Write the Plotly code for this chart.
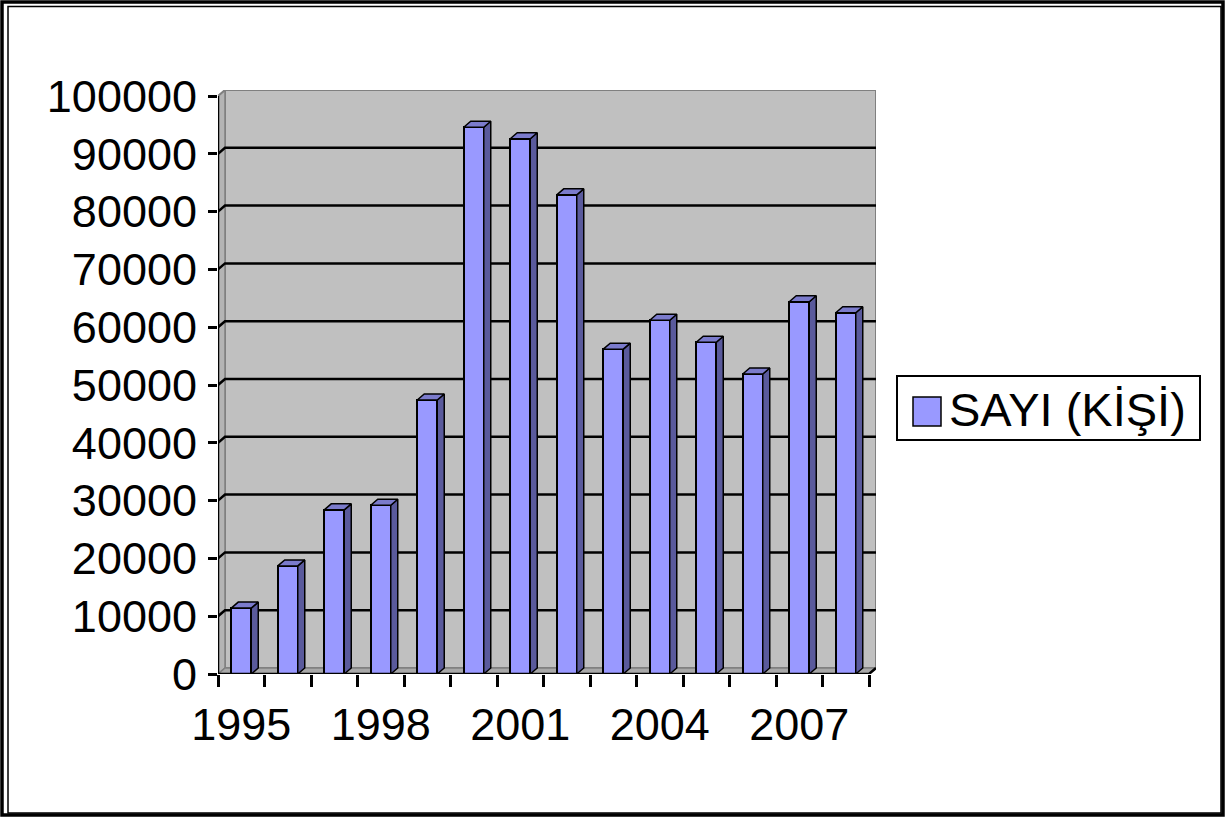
import plotly.graph_objects as go

years = ["1995", "1996", "1997", "1998", "1999", "2000", "2001", "2002",
         "2003", "2004", "2005", "2006", "2007", "2008"]
values = [11400, 18700, 28400, 29200, 47400, 94600, 92600, 82900,
          56200, 61200, 57400, 51900, 64400, 62500]
series_name = "SAYI (KİŞİ)"
y_ticks = [0, 10000, 20000, 30000, 40000, 50000, 60000, 70000, 80000, 90000, 100000]
x_label_years = ["1995", "1998", "2001", "2004", "2007"]

W, H = 1232, 819
L, R, T, B = 218, 876, 90, 674
n = len(years)
px_per_cat = 46.5
dx = (R - L) / px_per_cat - n          # depth in category units
ymax = 100000
px_per_val = 5.78 / 1000
dyv = (B - T) / px_per_val - ymax      # depth in value units
bw = 0.43
hw = bw / 2

FONT = "Liberation Sans, Arial, sans-serif"

def pxx(p):
    return (p - L) / (R - L)

def pxy(p):
    return (B - p) / (B - T)

fig = go.Figure()
idx = list(range(n))

# front faces
fig.add_trace(go.Bar(x=idx, y=values, width=bw, marker=dict(color="#9999FF", line=dict(color="black", width=2)),
                     showlegend=False, hoverinfo="skip"))

# side and top faces
sx, sy, tx, ty = [], [], [], []
for i, v in zip(idx, values):
    xr = i + hw
    xl = i - hw
    sx += [xr, xr + dx, xr + dx, xr, xr, None]
    sy += [0, dyv, v + dyv, v, 0, None]
    tx += [xl, xl + dx, xr + dx, xr, xl, None]
    ty += [v, v + dyv, v + dyv, v, v, None]
fig.add_trace(go.Scatter(x=sx, y=sy, mode="lines", fill="toself", fillcolor="#5A5A9C",
                         line=dict(color="black", width=1.5), showlegend=False, hoverinfo="skip"))
fig.add_trace(go.Scatter(x=tx, y=ty, mode="lines", fill="toself", fillcolor="#7B7BCC",
                         line=dict(color="black", width=1.5), showlegend=False, hoverinfo="skip"))

x0, x1 = -0.5, n - 0.5
shapes = []
# back wall
shapes.append(dict(type="rect", xref="x", yref="y", x0=x0 + dx, x1=x1 + dx, y0=dyv, y1=ymax + dyv,
                   fillcolor="#C0C0C0", line=dict(color="#808080", width=2), layer="below"))
# left wall
shapes.append(dict(type="path", xref="x", yref="y",
                   path=f"M {x0},0 L {x0+dx},{dyv} L {x0+dx},{ymax+dyv} L {x0},{ymax} Z",
                   fillcolor="#B4B4B4", line=dict(color="#808080", width=1.5), layer="below"))
# floor
shapes.append(dict(type="path", xref="x", yref="y",
                   path=f"M {x0},0 L {x1},0 L {x1+dx},{dyv} L {x0+dx},{dyv} Z",
                   fillcolor="#A8A8A8", line=dict(color="#808080", width=1.5), layer="below"))
# gridlines on back wall
for v in y_ticks[1:-1]:
    shapes.append(dict(type="path", xref="x", yref="y",
                       path=f"M {x0},{v} L {x0+dx},{v+dyv} L {x1+dx},{v+dyv}",
                       line=dict(color="black", width=2.5), layer="below"))
shapes.append(dict(type="path", xref="x", yref="y",
                   path=f"M {x0},{ymax} L {x0+dx},{ymax+dyv}",
                   line=dict(color="#808080", width=2), layer="below"))
# y axis line
shapes.append(dict(type="line", xref="x", yref="y", x0=x0, x1=x0, y0=0, y1=ymax,
                   line=dict(color="black", width=2.5)))
# x axis line with right diagonal
shapes.append(dict(type="path", xref="x", yref="y",
                   path=f"M {x0},0 L {x1},0 L {x1+dx},{dyv}",
                   line=dict(color="black", width=2.5)))

# outer frame
shapes.append(dict(type="rect", xref="paper", yref="paper", x0=pxx(2), x1=pxx(1223), y0=pxy(2), y1=pxy(815),
                   line=dict(color="black", width=3.5), fillcolor="rgba(0,0,0,0)"))
shapes.append(dict(type="rect", xref="paper", yref="paper", x0=pxx(8), x1=pxx(1221), y0=pxy(6.5), y1=pxy(813),
                   line=dict(color="black", width=1.5), fillcolor="rgba(0,0,0,0)"))
# legend
shapes.append(dict(type="rect", xref="paper", yref="paper", x0=pxx(897), x1=pxx(1200), y0=pxy(376), y1=pxy(440),
                   line=dict(color="black", width=2), fillcolor="white"))
shapes.append(dict(type="rect", xref="paper", yref="paper", x0=pxx(913), x1=pxx(941), y0=pxy(397), y1=pxy(426),
                   line=dict(color="black", width=1.5), fillcolor="#9999FF"))

annotations = [dict(text=series_name, xref="paper", yref="paper", x=pxx(947), y=pxy(409),
                    xanchor="left", yanchor="middle", showarrow=False,
                    font=dict(family=FONT, size=47, color="black"))]

fig.update_layout(
    width=W, height=H,
    margin=dict(l=L, r=W - R, t=T, b=H - B, pad=0),
    paper_bgcolor="white", plot_bgcolor="white",
    shapes=shapes, annotations=annotations,
    showlegend=False,
    bargap=0,
    xaxis=dict(range=[x0, x1 + dx], showgrid=False, zeroline=False, showline=False,
               tickmode="array", tickvals=[years.index(y) for y in x_label_years], ticktext=x_label_years,
               ticks="", ticklabelstandoff=20,
               tickfont=dict(family=FONT, size=45, color="black"),
               minor=dict(tickmode="array", tickvals=[x0 + k for k in range(n + 1)], ticks="outside",
                          ticklen=12, tickwidth=2.5, tickcolor="black", showgrid=False)),
    yaxis=dict(range=[0, ymax + dyv], showgrid=False, zeroline=False, showline=False,
               tickmode="array", tickvals=y_ticks, ticktext=[str(v) for v in y_ticks],
               ticks="outside", ticklen=9, tickwidth=2.5, tickcolor="black", ticklabelstandoff=2,
               tickfont=dict(family=FONT, size=45, color="black")),
)

fig.write_html("out.html", config={"displayModeBar": False},
               post_script="document.body.style.margin='0';document.body.style.overflow='hidden';")
